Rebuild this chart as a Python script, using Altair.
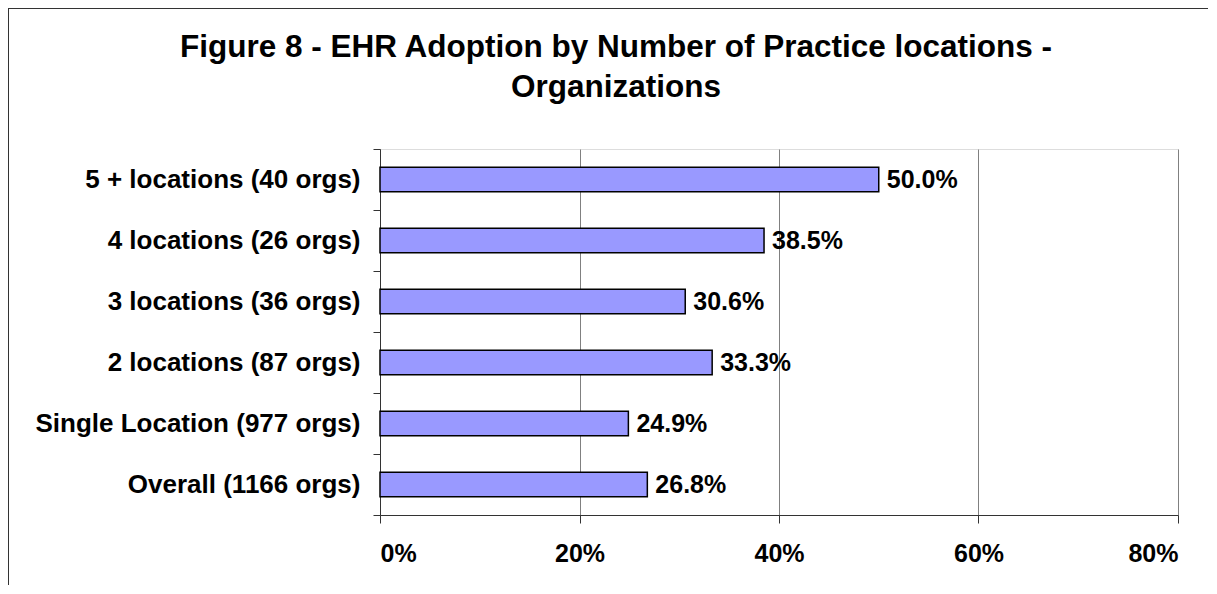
import altair as alt
import pandas as pd

categories = [
    "5 + locations (40 orgs)",
    "4 locations (26 orgs)",
    "3 locations (36 orgs)",
    "2 locations (87 orgs)",
    "Single Location (977 orgs)",
    "Overall (1166 orgs)",
]
values = [0.500, 0.385, 0.306, 0.333, 0.249, 0.268]
x_ticks = [0, 0.2, 0.4, 0.6, 0.8]
title_lines = ["Figure 8 - EHR Adoption by Number of Practice locations -", "Organizations"]

FONT = "Liberation Sans, Arial, sans-serif"

df = pd.DataFrame({"category": categories, "value": values})

y_enc = alt.Y(
    "category:N",
    sort=None,
    scale=alt.Scale(paddingInner=0, paddingOuter=0),
    axis=alt.Axis(
        title=None,
        labelFontSize=26,
        labelFontWeight="bold",
        labelColor="black",
        labelFont=FONT,
        labelPadding=13,
        labelLimit=500,
        tickSize=7,
        tickColor="#333333",
        domainColor="#333333",
        tickBand="extent",
        grid=False,
    ),
)
x_enc = alt.X(
    "value:Q",
    scale=alt.Scale(domain=[0, 0.8], nice=False),
    axis=alt.Axis(
        title=None,
        values=x_ticks,
        format=".0%",
        labelFontSize=25,
        labelFontWeight="bold",
        labelColor="black",
        labelFont=FONT,
        labelPadding=18,
        tickSize=8,
        tickColor="#333333",
        domainColor="#333333",
        grid=True,
        gridColor="#808080",
        gridWidth=1,
    ),
)

bars = alt.Chart(df).mark_bar(
    color="#9999FF", stroke="black", strokeWidth=1.5, height={"band": 0.4}
).encode(x=x_enc, y=y_enc)

labels = alt.Chart(df).mark_text(
    align="left", baseline="middle", dx=8, fontSize=25, fontWeight="bold", font=FONT, color="black"
).encode(
    x=alt.X("value:Q"),
    y=alt.Y("category:N", sort=None),
    text=alt.Text("value:Q", format=".1%"),
)

one = pd.DataFrame({"a": [0]})
frame_top = alt.Chart(one).mark_rule(stroke="#333333", strokeWidth=1).encode(
    x=alt.value(-372), x2=alt.value(3000), y=alt.value(-140.5)
)
frame_left = alt.Chart(one).mark_rule(stroke="#333333", strokeWidth=1).encode(
    x=alt.value(-371.5), y=alt.value(-141), y2=alt.value(3000)
)

t1 = alt.Chart(one).mark_text(
    align="center", baseline="alphabetic", fontSize=31.5, fontWeight="bold", font=FONT, color="black"
).encode(x=alt.value(236), y=alt.value(-92), text=alt.value(title_lines[0]))
t2 = alt.Chart(one).mark_text(
    align="center", baseline="alphabetic", fontSize=31.5, fontWeight="bold", font=FONT, color="black"
).encode(x=alt.value(236), y=alt.value(-52), text=alt.value(title_lines[1]))

chart = alt.layer(bars, labels, frame_top, frame_left, t1, t2).properties(
    width=798,
    height=366,
    padding={"left": 372, "top": 141, "right": 30, "bottom": 70},
    autosize=alt.AutoSizeParams(type="none"),
).configure_view(
    stroke="#808080", strokeWidth=1
).configure(background="white")

chart.save("out.html", embed_options={"renderer": "svg", "actions": False})
